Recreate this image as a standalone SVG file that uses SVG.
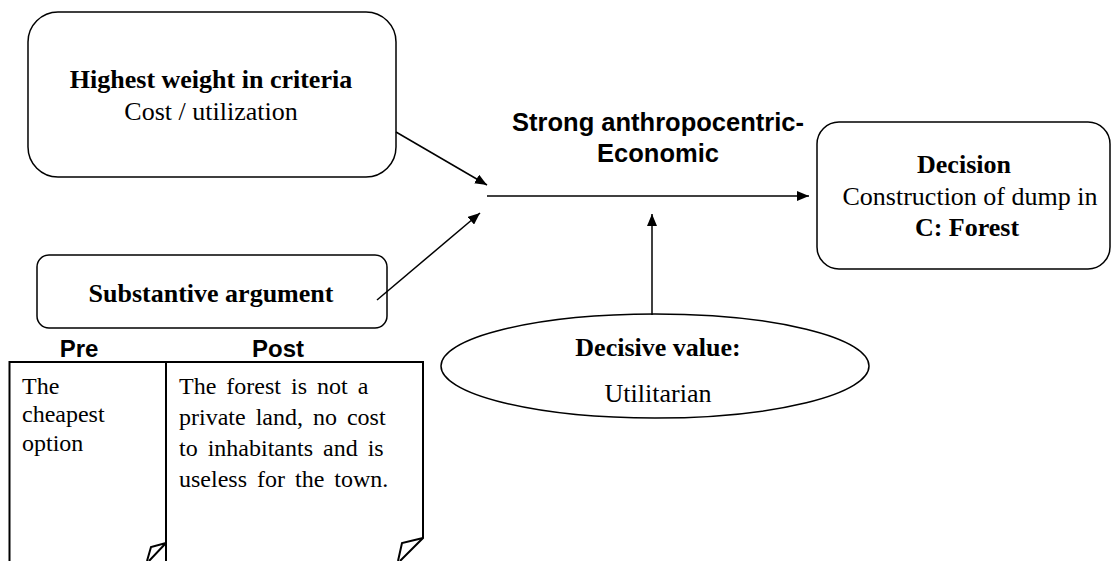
<svg xmlns="http://www.w3.org/2000/svg" width="1112" height="561" viewBox="0 0 1112 561">
<style>
.box{fill:#fff;stroke:#000;stroke-width:1.5}
.doc{fill:none;stroke:#000;stroke-width:2;stroke-linejoin:miter}
.t{font-family:"Liberation Serif","Times New Roman",serif;font-size:26px;fill:#000}
.tb{font-family:"Liberation Serif","Times New Roman",serif;font-size:26px;font-weight:bold;fill:#000}
.a{font-family:"Liberation Sans",Arial,sans-serif;font-size:25.5px;font-weight:bold;fill:#000}
.ap{font-family:"Liberation Sans",Arial,sans-serif;font-size:24px;font-weight:bold;fill:#000}
.d{font-family:"Liberation Serif","Times New Roman",serif;font-size:24px;fill:#000}
.w{word-spacing:4px}
.c{text-anchor:middle}
.ln{stroke:#000;stroke-width:1.5;fill:none}
</style>
<defs>
<marker id="ah" viewBox="0 0 12 10" refX="12" refY="5" markerWidth="12" markerHeight="10" markerUnits="userSpaceOnUse" orient="auto">
<path d="M0,0 L12,5 L0,10 Z" fill="#000"/>
</marker>
</defs>
<g id="criteria">
<rect class="box" x="28" y="12" width="368" height="165" rx="30" ry="30"/>
<text class="tb c" x="211" y="88">Highest weight in criteria</text>
<text class="t c" x="211" y="120">Cost / utilization</text>
</g>
<g id="substantive">
<rect class="box" x="37" y="255" width="350" height="73" rx="12" ry="12"/>
<text class="tb c" x="211" y="302">Substantive argument</text>
</g>
<g id="decision">
<rect class="box" x="817" y="122" width="293" height="147" rx="22" ry="22"/>
<text class="tb c" x="964" y="173">Decision</text>
<text class="t c" x="970" y="205">Construction of dump in</text>
<text class="tb c" x="967" y="236">C: Forest</text>
</g>
<g id="value">
<ellipse class="box" cx="655" cy="366" rx="214" ry="52"/>
<text class="tb c" x="658" y="356">Decisive value:</text>
<text class="t c" x="658" y="402">Utilitarian</text>
</g>
<g id="label">
<text class="a c" x="658" y="131">Strong anthropocentric-</text>
<text class="a c" x="658" y="162">Economic</text>
</g>
<g id="pre">
<text class="ap c" x="79" y="357">Pre</text>
<path class="doc" d="M9.5,575 V362 H166 V575"/>
<path class="doc" d="M166,543 L151,547 L147,561 M166,543 L149,561" stroke-width="1.5"/>
<text class="d" x="22" y="394">The</text>
<text class="d" x="22" y="422">cheapest</text>
<text class="d" x="22" y="451">option</text>
</g>
<g id="post">
<text class="ap c" x="278" y="357">Post</text>
<path class="doc" d="M166,362 H423 V538 L400,561"/>
<path class="doc" d="M423,538 L402,543 L398,561" stroke-width="1.5"/>
<text class="d w" x="179" y="394">The forest is not a</text>
<text class="d w" x="179" y="425">private land, no cost</text>
<text class="d w" x="179" y="456">to inhabitants and is</text>
<text class="d w" x="179" y="487">useless for the town.</text>
</g>
<g id="connectors">
<line class="ln" x1="396" y1="132" x2="487" y2="185" marker-end="url(#ah)"/>
<line class="ln" x1="377" y1="300" x2="480" y2="213" marker-end="url(#ah)"/>
<line class="ln" x1="487" y1="196" x2="809" y2="196" marker-end="url(#ah)"/>
<line class="ln" x1="652" y1="315" x2="652" y2="214" marker-end="url(#ah)"/>
</g>
</svg>
